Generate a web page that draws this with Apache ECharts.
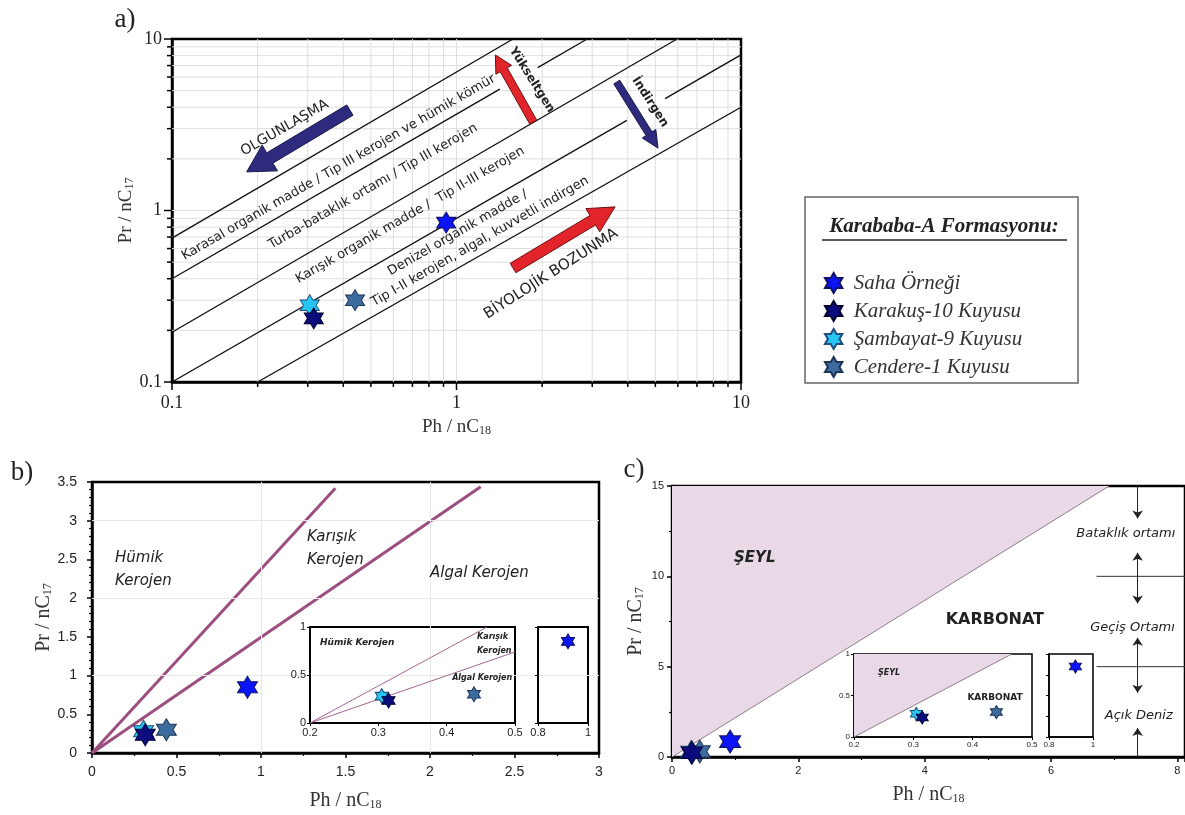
<!DOCTYPE html>
<html><head><meta charset="utf-8">
<script src="https://cdn.jsdelivr.net/npm/echarts/dist/echarts.min.js"></script>
<style>html,body{margin:0;padding:0;background:#fff}#c{width:1185px;height:815px}</style>
</head><body><div id="c"></div><script>
// ---------------- DATA ----------------
const samples = ['Saha Örneği', 'Karakuş-10 Kuyusu', 'Şambayat-9 Kuyusu', 'Cendere-1 Kuyusu'];
const phNc18 = [0.92, 0.315, 0.305, 0.44];
const prNc17 = [0.85, 0.235, 0.28, 0.30];

// panel a boundary lines (Ph/nC18, Pr/nC17), split where labels interrupt them
const aLine1 = [[0.1, 0.69], [1.58, 10]];
const aLine2a = [[0.1, 0.40], [1.42, 5.1]];
const aLine2b = [[1.93, 6.8], [2.88, 10]];
const aLine3 = [[0.1, 0.195], [5.96, 10]];
const aLine4a = [[0.1, 0.1], [3.97, 3.35]];
const aLine4b = [[5.41, 4.49], [10, 8.07]];
const aLine5 = [[0.2, 0.1], [10, 4.0]];
const aLogTicks = [0.1,0.2,0.3,0.4,0.5,0.6,0.7,0.8,0.9,1,2,3,4,5,6,7,8,9,10];

// panel b kerogen boundaries
const bHumikLine = [[0, 0], [1.44, 3.42]];
const bAlgalLine = [[0, 0], [2.30, 3.44]];
const bInsetHumik = [[0.2, 0], [0.459, 1]];
const bInsetAlgal = [[0.2, 0], [0.5, 0.74]];

// panel c shale / carbonate boundary and environment bounds
const cShaleLine = [[0, 0], [6.92, 15]];
const cInsetShale = [[0.2, 0], [0.466, 1]];
const cEnvBounds = [10, 5];

// ---------------- STYLE ----------------
const sampleColors = ['#0a14f5', '#0c0c7e', '#27c6f2', '#3b6b9f'];
const sampleBorders = ['#10106a', '#000033', '#1d4f7f', '#1c3554'];
const sampleZ = [1, 3, 1, 2];
const STAR = 'path://M50 0L64.43 25L93.3 25L78.87 50L93.3 75L64.43 75L50 100L35.57 75L6.7 75L21.13 50L6.7 25L35.57 25Z';
const SERIF = '"Liberation Serif", "Times New Roman", serif';
const SANS = '"Liberation Sans", Arial, sans-serif';
const HAND = '"DejaVu Sans", sans-serif';
const MAUVE = '#9c4e7f';

const chart = echarts.init(document.getElementById('c'), null, {renderer: 'canvas'});

function nm(main, sub, size) {
  return {
    name: '{n|' + main + '}{s|' + sub + '}',
    nameTextStyle: {rich: {
      n: {fontFamily: SERIF, fontSize: size, color: '#333'},
      s: {fontFamily: SERIF, fontSize: Math.round(size * 0.62), color: '#333', verticalAlign: 'bottom', padding: [Math.round(size*0.3), 0, 0, 0]}
    }}
  };
}
function vAxis(gi, min, max, interval, extra) {
  return Object.assign({
    gridIndex: gi, type: 'value', min, max, interval,
    splitLine: {show: false},
    axisLine: {show: true, onZero: false, lineStyle: {color: '#000', width: 2.5}},
    axisTick: {show: true, length: 5, lineStyle: {color: '#000', width: 1.5}},
    axisLabel: {fontFamily: SANS, fontSize: 14, color: '#222'}
  }, extra || {});
}
function seg(gi, data, color, width, z) {
  return {type: 'line', xAxisIndex: gi, yAxisIndex: gi, data, symbol: 'none', silent: true,
    z: z || 3, lineStyle: {color, width}, emphasis: {disabled: true}};
}
function samplesOn(gi, idx, size, z0) {
  return idx.map(i => ({
    type: 'scatter', name: samples[i], xAxisIndex: gi, yAxisIndex: gi,
    data: [[phNc18[i], prNc17[i]]], symbol: STAR, symbolSize: size,
    itemStyle: {color: sampleColors[i], borderColor: sampleBorders[i], borderWidth: 1, opacity: 1},
    z: (z0 || 4) + sampleZ[i], emphasis: {disabled: true}
  }));
}

const insetAxis = (gi, min, max, interval, fs, lw, showLabel) => vAxis(gi, min, max, interval, {
  z: 6,
  axisLine: {show: true, onZero: false, lineStyle: {color: '#000', width: lw}},
  axisTick: {show: true, length: 3, lineStyle: {color: '#000', width: 1}},
  axisLabel: {show: showLabel, fontFamily: SANS, fontSize: fs, color: '#222', margin: 4}
});

const series = [];
// panel a log grid + ticks
series.push({
  type: 'custom', xAxisIndex: 0, yAxisIndex: 0, silent: true, z: 1, clip: false,
  data: aLogTicks.map(v => [v, v]),
  renderItem: (params, api) => {
    const v = api.value(0);
    const lg = Math.log10(v);
    const major = Math.abs(lg - Math.round(lg)) < 1e-6;
    const edge = Math.abs(Math.abs(lg) - 1) < 1e-6;
    const xb = api.coord([v, 0.1]), xt = api.coord([v, 10]);
    const yl = api.coord([0.1, v]), yr = api.coord([10, v]);
    const len = major ? 8 : 5;
    const g = {stroke: '#dedede', lineWidth: 1};
    const k = {stroke: '#000', lineWidth: 1.5};
    const ch = [
      {type: 'line', shape: {x1: xb[0], y1: xb[1], x2: xb[0], y2: xb[1] + len}, style: k},
      {type: 'line', shape: {x1: yl[0] - len, y1: yl[1], x2: yl[0], y2: yl[1]}, style: k}
    ];
    if (!edge) {
      ch.unshift({type: 'line', shape: {x1: xb[0], y1: xb[1], x2: xt[0], y2: xt[1]}, style: g});
      ch.unshift({type: 'line', shape: {x1: yl[0], y1: yl[1], x2: yr[0], y2: yr[1]}, style: g});
    }
    return {type: 'group', children: ch};
  }
});
[aLine1, aLine2a, aLine2b, aLine3, aLine4a, aLine4b, aLine5].forEach(d => series.push(seg(0, d, '#111', 1.4)));
series.push(...samplesOn(0, [0, 1, 2, 3], [19, 21]));

// panel b
series.push({type: 'line', xAxisIndex: 1, yAxisIndex: 1, data: [[0, 0]], symbol: 'none', silent: true, z: 1,
  lineStyle: {opacity: 0},
  markLine: {silent: true, symbol: 'none', label: {show: false}, animation: false,
    lineStyle: {color: '#e8e8e8', width: 1, type: 'solid'},
    data: [{xAxis: 1}, {xAxis: 2}, {yAxis: 1}, {yAxis: 2}, {yAxis: 3}]}});
series.push(seg(1, bHumikLine, MAUVE, 3));
series.push(seg(1, bAlgalLine, MAUVE, 3));
series.push(...samplesOn(1, [0, 1, 2, 3], [20, 22]));
series.push(seg(2, bInsetHumik, '#a4668f', 1, 7));
series.push(seg(2, bInsetAlgal, '#a4668f', 1, 7));
series.push(...samplesOn(2, [1, 2, 3], [13, 15], 8));
series.push(...samplesOn(3, [0], [13, 15], 8));

// panel c
series.push({type: 'line', xAxisIndex: 4, yAxisIndex: 4, data: cShaleLine, symbol: 'none', silent: true, z: 2,
  lineStyle: {color: '#8c7f8a', width: 1}, areaStyle: {origin: 'end', color: '#e9d8e6', opacity: 1}});
cEnvBounds.forEach(b => series.push(seg(4, [[6.72, b], [8.12, b]], '#333', 1)));
const envArrows = [
  [[7.37, 15], [7.37, 13.2], 'none', 'arrow'],
  [[7.37, 11.3], [7.37, 8.5], 'arrow', 'arrow'],
  [[7.37, 6.6], [7.37, 3.55], 'arrow', 'arrow'],
  [[7.37, 0], [7.37, 1.6], 'none', 'arrow']
];
series.push({type: 'line', xAxisIndex: 4, yAxisIndex: 4, data: [[7.37, 0]], symbol: 'none', silent: true, z: 3,
  lineStyle: {opacity: 0},
  markLine: {silent: true, symbolSize: 8, label: {show: false}, animation: false,
    lineStyle: {color: '#222', width: 1, type: 'solid'},
    data: envArrows.map(a => [{coord: a[0], symbol: a[2]}, {coord: a[1], symbol: a[3]}])}});
series.push(...samplesOn(4, [0, 1, 2, 3], [21, 23]));
series.push({type: 'line', xAxisIndex: 5, yAxisIndex: 5, data: cInsetShale, symbol: 'none', silent: true, z: 7,
  lineStyle: {color: '#8c7f8a', width: 1}, areaStyle: {origin: 'end', color: '#e9d8e6', opacity: 1}});
series.push(...samplesOn(5, [1, 2, 3], [12, 13], 8));
series.push(...samplesOn(6, [0], [12, 13], 8));

const gridBase = (l, t, w, h, bw, z) => ({left: l, top: t, width: w, height: h, show: true,
  borderColor: '#000', borderWidth: bw, backgroundColor: '#fff', z: z || 0});

chart.setOption({
  animation: false,
  backgroundColor: '#fff',
  grid: [
    gridBase(172, 39, 569, 343, 2.5),
    gridBase(92, 482, 507, 271, 2.5),
    gridBase(310, 627, 205, 96, 2, 5),
    gridBase(538, 627, 50, 96, 2, 5),
    gridBase(672, 486, 514, 271, 2.5),
    gridBase(854, 654, 178, 83, 1.5, 5),
    gridBase(1049, 654, 44, 83, 1.5, 5)
  ],
  xAxis: [
    Object.assign({gridIndex: 0, type: 'log', logBase: 10, min: 0.1, max: 10,
      splitLine: {show: false}, axisTick: {show: false},
      axisLine: {show: true, onZero: false, lineStyle: {color: '#000', width: 2.5}},
      axisLabel: {fontFamily: SERIF, fontSize: 18, color: '#222', margin: 12},
      nameLocation: 'middle', nameGap: 36}, nm('Ph / nC', '18', 19)),
    Object.assign(vAxis(1, 0, 3, 0.5, {minorTick: {show: true, splitNumber: 2, length: 3, lineStyle: {color: '#000', width: 1.2}},
      axisLabel: {fontFamily: SANS, fontSize: 14, color: '#222', margin: 12},
      nameLocation: 'middle', nameGap: 38}), nm('Ph / nC', '18', 20)),
    insetAxis(2, 0.2, 0.5, 0.1, 11, 2, true),
    insetAxis(3, 0.8, 1, 0.2, 11, 2, true),
    Object.assign(vAxis(4, 0, 8.12, 2, {minorTick: {show: true, splitNumber: 2, length: 3, lineStyle: {color: '#000', width: 1.2}},
      axisLabel: {fontFamily: SANS, fontSize: 11, color: '#222', showMaxLabel: false},
      nameLocation: 'middle', nameGap: 28}), nm('Ph / nC', '18', 20)),
    insetAxis(5, 0.2, 0.5, 0.1, 8, 1.5, true),
    insetAxis(6, 0.8, 1, 0.2, 8, 1.5, true)
  ],
  yAxis: [
    Object.assign({gridIndex: 0, type: 'log', logBase: 10, min: 0.1, max: 10,
      splitLine: {show: false}, axisTick: {show: false},
      axisLine: {show: true, onZero: false, lineStyle: {color: '#000', width: 2.5}},
      axisLabel: {fontFamily: SERIF, fontSize: 18, color: '#222', margin: 10},
      nameLocation: 'middle', nameGap: 34}, nm('Pr / nC', '17', 19)),
    Object.assign(vAxis(1, 0, 3.5, 0.5, {minorTick: {show: true, splitNumber: 5, length: 3, lineStyle: {color: '#000', width: 1.2}},
      axisLabel: {fontFamily: SANS, fontSize: 14, color: '#222', margin: 15},
      nameLocation: 'middle', nameGap: 38}), nm('Pr / nC', '17', 20)),
    insetAxis(2, 0, 1, 0.5, 11, 2, true),
    insetAxis(3, 0, 1, 0.5, 11, 2, false),
    Object.assign(vAxis(4, 0, 15, 5, {minorTick: {show: true, splitNumber: 2, length: 3, lineStyle: {color: '#000', width: 1.2}},
      axisLabel: {fontFamily: SANS, fontSize: 11, color: '#222'},
      nameLocation: 'middle', nameGap: 26}), nm('Pr / nC', '17', 20)),
    insetAxis(5, 0, 1, 0.5, 8, 1.5, true),
    insetAxis(6, 0, 1, 0.25, 8, 1.5, false)
  ],
  legend: {
    data: samples, left: 819, top: 267, orient: 'vertical', selectedMode: false,
    itemWidth: 18, itemHeight: 20, itemGap: 6, icon: STAR,
    textStyle: {fontFamily: SERIF, fontStyle: 'italic', fontSize: 21, color: '#333', padding: [0, 0, 0, 6]}
  },
  series
});

// ---------------- ANNOTATIONS ----------------
const P = (gi, pt) => chart.convertToPixel({gridIndex: gi}, pt);
function txt(pos, text, o) {
  o = o || {};
  return {type: 'text', x: pos[0], y: pos[1], rotation: o.rot || 0, z: o.z || 20, silent: true,
    style: {text, fill: o.color || '#222', fontFamily: o.family || HAND, fontSize: o.size || 12,
      fontWeight: o.weight || 'normal', fontStyle: o.style || 'normal', lineHeight: o.lh,
      align: o.align || 'center', verticalAlign: 'middle',
      textAlign: o.align || 'center', textVerticalAlign: 'middle'}};
}
function arrow(gi, from, to, color, stroke, sw, hw, hl) {
  const t = P(gi, from), h = P(gi, to);
  const dx = h[0] - t[0], dy = h[1] - t[1], L = Math.hypot(dx, dy);
  const ux = dx / L, uy = dy / L, nx = -uy, ny = ux;
  const bx = h[0] - ux * hl, by = h[1] - uy * hl;
  const pts = [
    [t[0] + nx * sw / 2, t[1] + ny * sw / 2], [bx + nx * sw / 2, by + ny * sw / 2],
    [bx + nx * hw / 2, by + ny * hw / 2], [h[0], h[1]],
    [bx - nx * hw / 2, by - ny * hw / 2], [bx - nx * sw / 2, by - ny * sw / 2],
    [t[0] - nx * sw / 2, t[1] - ny * sw / 2]];
  return {type: 'polygon', shape: {points: pts}, z: 19, silent: true,
    style: {fill: color, stroke, lineWidth: 1}};
}
const l1p = P(0, aLine4a[0]), l2p = P(0, aLine4b[1]);
const rotA = Math.atan2(l1p[1] - l2p[1], l2p[0] - l1p[0]);

const aLabels = [
  ['Karasal organik madde / Tip III kerojen ve hümik kömür', [0.385, 1.78]],
  ['Turba-bataklık ortamı / Tip III kerojen', [0.509, 1.38]],
  ['Karışık organik madde /  Tip II-III kerojen', [0.687, 0.94]],
  ['Denizel organik madde /', [1.01, 0.74]],
  ['Tip I-II kerojen, algal, kuvvetli indirgen', [1.21, 0.66]]
];
const g = [];
aLabels.forEach(l => g.push(txt(P(0, l[1]), l[0], {rot: rotA, size: 13})));
g.push(txt(P(0, [0.249, 3.03]), 'OLGUNLAŞMA', {rot: rotA, size: 14}));
g.push(txt(P(0, [2.15, 0.427]), 'BİYOLOJİK BOZUNMA', {rot: 0.567, size: 15}));
g.push(txt(P(0, [1.84, 5.77]), 'Yükseltgen', {rot: -1.01, size: 12, weight: 'bold'}));
g.push(txt(P(0, [4.79, 4.29]), 'İndirgen', {rot: -1.0, size: 12, weight: 'bold'}));
g.push(arrow(0, [0.422, 3.85], [0.183, 1.68], '#2e2b7e', '#1a1848', 12, 30, 27));
g.push(arrow(0, [1.86, 3.28], [1.37, 8.07], '#e2252b', '#701010', 8, 18, 17));
g.push(arrow(0, [3.66, 5.61], [5.11, 2.31], '#2e2b7e', '#1a1848', 7, 16, 17));
g.push(arrow(0, [1.58, 0.462], [3.61, 1.05], '#e2252b', '#701010', 11, 27, 26));

// panel b labels
g.push(txt(P(1, [0.136, 2.37]), 'Hümik\nKerojen', {size: 15, style: 'italic', align: 'left', lh: 23}));
g.push(txt(P(1, [1.272, 2.64]), 'Karışık\nKerojen', {size: 15, style: 'italic', align: 'left', lh: 23}));
g.push(txt(P(1, [2.0, 2.32]), 'Algal Kerojen', {size: 15, style: 'italic', align: 'left'}));
g.push(txt(P(2, [0.2146, 0.833]), 'Hümik Kerojen', {size: 9, style: 'italic', weight: 'bold', align: 'left', z: 30}));
g.push(txt(P(2, [0.4445, 0.82]), 'Karışık\nKerojen', {size: 8, style: 'italic', weight: 'bold', align: 'left', lh: 14, z: 30}));
g.push(txt(P(2, [0.408, 0.47]), 'Algal Kerojen', {size: 8, style: 'italic', weight: 'bold', align: 'left', z: 30}));

// panel c labels
g.push(txt(P(4, [1.31, 11.0]), 'ŞEYL', {size: 15, weight: 'bold', style: 'italic'}));
g.push(txt(P(4, [5.11, 7.58]), 'KARBONAT', {size: 16, weight: 'bold'}));
g.push(txt(P(4, [6.40, 12.34]), 'Bataklık ortamı', {size: 13, style: 'italic', align: 'left'}));
g.push(txt(P(4, [6.62, 7.14]), 'Geçiş Ortamı', {size: 13, style: 'italic', align: 'left'}));
g.push(txt(P(4, [6.85, 2.27]), 'Açık Deniz', {size: 13, style: 'italic', align: 'left'}));
g.push(txt(P(5, [0.259, 0.77]), 'ŞEYL', {size: 8, weight: 'bold', style: 'italic', z: 30}));
g.push(txt(P(5, [0.4377, 0.48]), 'KARBONAT', {size: 9, weight: 'bold', z: 30}));

// legend box
g.push({type: 'rect', shape: {x: 805, y: 197, width: 273, height: 186}, z: 10, silent: true,
  style: {fill: 'none', stroke: '#666', lineWidth: 1.5}});
g.push(txt([944, 227], 'Karababa-A Formasyonu:', {family: SERIF, size: 21, weight: 'bold', style: 'italic', color: '#222'}));
g.push({type: 'line', shape: {x1: 822, y1: 240, x2: 1067, y2: 240}, z: 20, silent: true, style: {stroke: '#222', lineWidth: 1.3}});

// panel letters
g.push(txt([125, 20], 'a)', {family: SERIF, size: 27, color: '#222'}));
g.push(txt([22, 473], 'b)', {family: SERIF, size: 27, color: '#222'}));
g.push(txt([634, 470], 'c)', {family: SERIF, size: 27, color: '#222'}));

chart.setOption({graphic: g});
</script></body></html>
